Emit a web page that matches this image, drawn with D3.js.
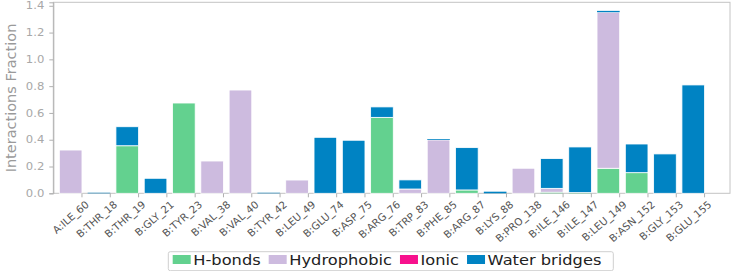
<!DOCTYPE html>
<html>
<head>
<meta charset="utf-8">
<script src="https://cdn.jsdelivr.net/npm/d3@7"></script>
<style>
  body { margin: 0; background: #fff; }
  svg { display: block; font-family: "DejaVu Sans", sans-serif; }
</style>
</head>
<body>
<svg id="chart"></svg>
<script>
const residues = ["A:ILE_60", "B:THR_18", "B:THR_19", "B:GLY_21", "B:TYR_23", "B:VAL_38", "B:VAL_40",
  "B:TYR_42", "B:LEU_49", "B:GLU_74", "B:ASP_75", "B:ARG_76", "B:TRP_83", "B:PHE_85", "B:ARG_87",
  "B:LYS_88", "B:PRO_138", "B:ILE_146", "B:ILE_147", "B:LEU_149", "B:ASN_152", "B:GLY_153", "B:GLU_155"]

const hbonds      = [0, 0, 0.355, 0, 0.674, 0, 0, 0, 0, 0, 0, 0.567, 0, 0, 0.025, 0, 0, 0.008, 0.005, 0.187, 0.154, 0, 0]
const hydrophobic = [0.323, 0, 0, 0, 0, 0.241, 0.771, 0, 0.099, 0, 0, 0, 0.032, 0.398, 0, 0, 0.187, 0.029, 0, 1.165, 0, 0, 0]
const ionic       = [0, 0, 0, 0, 0, 0, 0, 0, 0, 0, 0, 0, 0, 0, 0, 0, 0, 0, 0, 0, 0, 0, 0]
const water       = [0, 0.004, 0.142, 0.112, 0, 0, 0, 0.004, 0, 0.418, 0.396, 0.078, 0.068, 0.006, 0.316, 0.012, 0, 0.222, 0.341, 0.01, 0.214, 0.294, 0.809]

const seriesNames = ["H-bonds", "Hydrophobic", "Ionic", "Water bridges"]
const seriesColors = ["#63d18f", "#cdbbdf", "#f7118d", "#0083c3"]
const yTicks = [0, 0.2, 0.4, 0.6, 0.8, 1.0, 1.2, 1.4]

const width = 733
const height = 271
const stretch = 1.16  // text in the picture is a little wide

const svg = d3.select('#chart')
    .attr("width", width)
    .attr("height", height)

const plot = { left: 53.3, right: 730, top: 2.3, bottom: 193.3 }

const table = residues.map((r, i) => ({
    residue: r,
    "H-bonds": hbonds[i],
    "Hydrophobic": hydrophobic[i],
    "Ionic": ionic[i],
    "Water bridges": water[i]
}))

const stack = d3.stack().keys(seriesNames)(table)

const x = d3.scaleBand()
    .domain(residues)
    .range([56.5, 707.4])
    .paddingInner(0.2)
    .paddingOuter(0.1)

const y = d3.scaleLinear()
    .domain([0, 1.426])
    .range([plot.bottom, plot.top])

const color = d3.scaleOrdinal()
    .domain(seriesNames)
    .range(seriesColors)

// frame
svg.append("rect")
    .attr("x", plot.left)
    .attr("y", plot.top)
    .attr("width", plot.right - plot.left)
    .attr("height", plot.bottom - plot.top)
    .attr("fill", "none")
    .attr("stroke", "#c4c4c4")
    .attr("stroke-width", 1)

// bars
svg.append("g")
    .selectAll("g")
    .data(stack)
    .join("g")
    .attr("fill", d => color(d.key))
    .selectAll("rect")
    .data(d => d)
    .join("rect")
    .attr("x", d => x(d.data.residue))
    .attr("width", x.bandwidth())
    .attr("y", d => y(d[1]))
    .attr("height", d => y(d[0]) - y(d[1]))
    .attr("stroke", "#fff")
    .attr("stroke-width", d => (y(d[0]) - y(d[1])) > 2 ? 0.8 : 0)

// y axis
const yAxis = svg.append("g")
    .attr("transform", `translate(${plot.left},0)`)
    .call(d3.axisLeft(y).tickValues(yTicks).tickFormat(d3.format(".1f")).tickSize(4).tickPadding(5))

yAxis.select(".domain").attr("stroke", "#b0b0b0")
yAxis.selectAll(".tick line").attr("stroke", "#b0b0b0")
yAxis.selectAll("text")
    .attr("fill", "#a8a8a8")
    .attr("font-size", 10)
    .attr("font-family", "DejaVu Sans")
    .each(function () {
        const w = this.getComputedTextLength()
        d3.select(this).attr("textLength", w * stretch).attr("lengthAdjust", "spacingAndGlyphs")
    })

// x axis, ticks sit at the right edge of each bar
const xAxis = svg.append("g")
    .attr("transform", `translate(0,${plot.bottom})`)

xAxis.selectAll("line")
    .data(residues)
    .join("line")
    .attr("x1", d => x(d) + x.bandwidth())
    .attr("x2", d => x(d) + x.bandwidth())
    .attr("y1", 0)
    .attr("y2", 4)
    .attr("stroke", "#b0b0b0")

xAxis.selectAll("text")
    .data(residues)
    .join("text")
    .attr("transform", d => `translate(${x(d) + x.bandwidth() + 4},${8}) rotate(-41)`)
    .attr("text-anchor", "end")
    .attr("dy", "0.55em")
    .attr("font-size", 10.3)
    .attr("fill", "#555")
    .text(d => d)

// y label
svg.append("text")
    .attr("transform", `translate(15.5,98) rotate(-90)`)
    .attr("text-anchor", "middle")
    .attr("font-size", 14.5)
    .attr("fill", "#9a9a9a")
    .text("Interactions Fraction")

// legend
const legend = svg.append("g")

legend.append("rect")
    .attr("x", 168.3)
    .attr("y", 251.7)
    .attr("width", 445)
    .attr("height", 19)
    .attr("rx", 2)
    .attr("fill", "#fff")
    .attr("stroke", "#cfcfcf")

let cursor = 172.7
seriesNames.forEach(name => {
    legend.append("rect")
        .attr("x", cursor)
        .attr("y", 255)
        .attr("width", 18)
        .attr("height", 9)
        .attr("fill", color(name))

    const label = legend.append("text")
        .attr("x", cursor + 20.6)
        .attr("y", 265)
        .attr("font-size", 14)
        .attr("fill", "#222")
        .text(name)

    const w = label.node().getComputedTextLength() * stretch
    label.attr("textLength", w).attr("lengthAdjust", "spacingAndGlyphs")
    cursor += 20.6 + w + 8
})
</script>
</body>
</html>
